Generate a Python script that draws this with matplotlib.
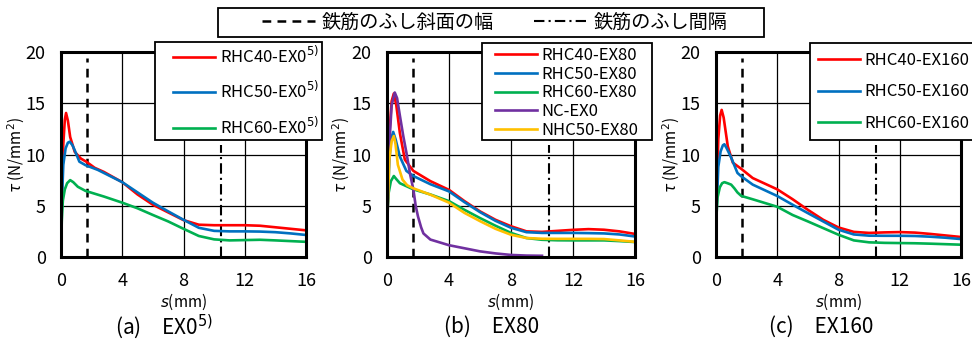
import matplotlib
matplotlib.use('Agg')
import matplotlib.pyplot as plt
from matplotlib.lines import Line2D
from matplotlib.patches import Rectangle

plt.rcParams['font.family'] = ['Noto Sans CJK JP', 'DejaVu Sans']
plt.rcParams['mathtext.fontset'] = 'dejavusans'

# (a) EX0
a_red_x = [0, 0.05, 0.15, 0.25, 0.33, 0.45, 0.6, 0.9, 1.3, 1.65, 2.2, 2.8, 4, 5, 6, 7, 8, 9, 10, 11, 12, 13, 14, 15, 16]
a_red_y = [0, 6, 11, 13.4, 14.05, 13.3, 11.7, 10.25, 9.6, 9.3, 8.7, 8.3, 7.3, 6.1, 5.1, 4.35, 3.6, 3.15, 3.1, 3.1, 3.1, 3.05, 2.9, 2.75, 2.6]
a_blue_x = [0, 0.05, 0.15, 0.3, 0.45, 0.57, 0.75, 0.9, 1.2, 1.6, 2.4, 4, 5, 6, 7, 8, 9, 10, 11, 12, 13, 14, 15, 16]
a_blue_y = [0, 5, 9, 10.6, 11.15, 11.25, 10.9, 10.4, 9.3, 8.96, 8.5, 7.3, 6.3, 5.3, 4.45, 3.63, 2.85, 2.55, 2.5, 2.5, 2.48, 2.42, 2.3, 2.15]
a_green_x = [0, 0.05, 0.12, 0.25, 0.4, 0.6, 0.8, 1.1, 1.6, 2.8, 4, 5, 6, 7, 8, 9, 10, 11, 12, 13, 14, 15, 16]
a_green_y = [0, 3.5, 5.5, 6.6, 7.2, 7.5, 7.3, 6.85, 6.45, 5.9, 5.3, 4.75, 4.1, 3.47, 2.75, 2.05, 1.72, 1.62, 1.65, 1.68, 1.62, 1.55, 1.48]

# (b) EX80
b_red_x = [0, 0.05, 0.15, 0.3, 0.44, 0.6, 0.83, 1.15, 1.7, 2.8, 4, 5, 6, 7, 8, 9, 10, 11, 12, 13, 14, 15, 16]
b_red_y = [0, 6, 12, 15.2, 15.95, 14.8, 12.1, 9.5, 8.4, 7.4, 6.55, 5.45, 4.45, 3.63, 3.0, 2.5, 2.45, 2.55, 2.65, 2.72, 2.66, 2.5, 2.25]
b_blue_x = [0, 0.05, 0.15, 0.28, 0.4, 0.55, 0.83, 1.25, 1.7, 2.8, 4, 5, 6, 7, 8, 9, 10, 11, 12, 13, 14, 15, 16]
b_blue_y = [0, 5, 9.5, 11.6, 12.2, 11.5, 9.8, 8.4, 7.9, 7.1, 6.4, 5.35, 4.38, 3.53, 2.85, 2.42, 2.35, 2.35, 2.35, 2.33, 2.3, 2.2, 2.0]
b_green_x = [0, 0.03, 0.1, 0.25, 0.44, 0.6, 0.83, 1.7, 2.8, 4, 5, 6, 7, 8, 9, 10, 11, 12, 13, 14, 15, 16]
b_green_y = [0, 4.5, 6.2, 7.4, 7.9, 7.6, 7.2, 6.6, 6.1, 5.45, 4.6, 3.8, 3.05, 2.35, 1.85, 1.68, 1.63, 1.62, 1.62, 1.62, 1.55, 1.46]
b_purple_x = [0, 0.05, 0.15, 0.3, 0.5, 0.65, 0.83, 1.05, 1.25, 1.5, 1.7, 1.85, 2.0, 2.2, 2.35, 2.8, 4, 5, 6, 7, 8, 9, 10]
b_purple_y = [0, 5, 11, 14.8, 16.05, 15.5, 13.8, 11.8, 10.2, 8.0, 6.6, 5.0, 3.95, 2.9, 2.3, 1.7, 1.15, 0.85, 0.55, 0.35, 0.2, 0.14, 0.12]
b_yellow_x = [0, 0.05, 0.15, 0.3, 0.44, 0.55, 0.7, 1.0, 1.3, 1.7, 2.8, 4, 5, 6, 7, 8, 9, 10, 11, 12, 13, 14, 15, 16]
b_yellow_y = [0, 5, 9.5, 11.3, 11.8, 11.0, 9.0, 7.55, 7.0, 6.7, 6.08, 5.3, 4.3, 3.5, 2.75, 2.17, 1.85, 1.78, 1.77, 1.77, 1.77, 1.75, 1.62, 1.48]

# (c) EX160
c_red_x = [0, 0.05, 0.15, 0.27, 0.37, 0.5, 0.77, 1.1, 1.65, 2.4, 4, 5, 6, 7, 8, 9, 10, 11, 12, 13, 14, 15, 16]
c_red_y = [0, 6, 11.5, 13.8, 14.35, 13.6, 10.8, 9.2, 8.6, 7.7, 6.6, 5.64, 4.6, 3.63, 2.88, 2.45, 2.35, 2.4, 2.43, 2.38, 2.25, 2.1, 1.95]
c_blue_x = [0, 0.05, 0.15, 0.3, 0.45, 0.55, 0.7, 0.99, 1.4, 1.65, 2.4, 4, 5, 6, 7, 8, 9, 10, 11, 12, 13, 14, 15, 16]
c_blue_y = [0, 5, 8.8, 10.3, 10.9, 11.0, 10.6, 9.7, 8.2, 7.87, 7.06, 5.95, 5.1, 4.28, 3.47, 2.66, 2.2, 2.08, 2.07, 2.07, 2.05, 1.98, 1.88, 1.75]
c_green_x = [0, 0.03, 0.1, 0.25, 0.4, 0.55, 0.75, 0.99, 1.2, 1.4, 1.65, 2.4, 4, 5, 6, 7, 8, 9, 10, 11, 12, 13, 14, 15, 16]
c_green_y = [0, 4, 5.8, 6.8, 7.2, 7.3, 7.2, 7.06, 6.7, 6.3, 5.96, 5.63, 4.9, 4.1, 3.47, 2.82, 2.17, 1.62, 1.43, 1.38, 1.36, 1.34, 1.3, 1.25, 1.2]

rib_slope_width = 1.68   # 鉄筋のふし斜面の幅
rib_spacing = 10.45      # 鉄筋のふし間隔

x_ticks = [0, 4, 8, 12, 16]
y_ticks = [0, 5, 10, 15, 20]

RED = '#FF0000'
BLUE = '#0070C0'
GREEN = '#00B050'
PURPLE = '#7030A0'
YELLOW = '#FFC000'

DASH = (0, (3.5, 2.5))
DASHDOT = (0, (5, 2, 1, 2))

# pixel layout: axes left/right, legend box (x, y, w, h), legend content anchor, row spacing
panels = [
    {
        'left': 61, 'right': 306, 'title': '(a)\u3000EX0$^{5)}$', 'title_x': 164,
        'curves': [
            (a_red_x, a_red_y, RED, 'RHC40-EX0$^{5)}$'),
            (a_blue_x, a_blue_y, BLUE, 'RHC50-EX0$^{5)}$'),
            (a_green_x, a_green_y, GREEN, 'RHC60-EX0$^{5)}$'),
        ],
        'box': (155, 42, 167, 98), 'anchor': (173, 91.5), 'spacing': 0.86,
    },
    {
        'left': 387, 'right': 635, 'title': '(b)\u3000EX80', 'title_x': 492,
        'curves': [
            (b_red_x, b_red_y, RED, 'RHC40-EX80'),
            (b_blue_x, b_blue_y, BLUE, 'RHC50-EX80'),
            (b_green_x, b_green_y, GREEN, 'RHC60-EX80'),
            (b_purple_x, b_purple_y, PURPLE, 'NC-EX0'),
            (b_yellow_x, b_yellow_y, YELLOW, 'NHC50-EX80'),
        ],
        'box': (482, 43, 170, 97), 'anchor': (495, 93), 'spacing': 0.11,
    },
    {
        'left': 716, 'right': 961, 'title': '(c)\u3000EX160', 'title_x': 821,
        'curves': [
            (c_red_x, c_red_y, RED, 'RHC40-EX160'),
            (c_blue_x, c_blue_y, BLUE, 'RHC50-EX160'),
            (c_green_x, c_green_y, GREEN, 'RHC60-EX160'),
        ],
        'box': (810, 43, 175, 97), 'anchor': (818, 92), 'spacing': 0.86,
    },
]

W, H = 972, 340
fig = plt.figure(figsize=(W / 100, H / 100), dpi=100)


def add_box(x, y, w, h):
    fig.patches.append(Rectangle((x / W, 1 - (y + h) / H), w / W, h / H,
                                 transform=fig.transFigure, facecolor='white',
                                 edgecolor='black', linewidth=1.3, zorder=4))


for p in panels:
    ax = fig.add_axes([p['left'] / W, (H - 257) / H, (p['right'] - p['left']) / W, 205 / H])
    ax.set_xlim(0, 16)
    ax.set_ylim(0, 20)
    ax.set_xticks(x_ticks)
    ax.set_yticks(y_ticks)
    ax.tick_params(axis='x', length=0, labelsize=13, pad=11)
    ax.tick_params(axis='y', length=0, labelsize=13, pad=11)
    ax.grid(True, color='black', linewidth=0.9)
    ax.set_axisbelow(True)
    for sp in ax.spines.values():
        sp.set_linewidth(2.2)
        sp.set_zorder(5)

    ax.plot([rib_slope_width, rib_slope_width], [0, 19.4], color='black',
            linestyle=DASH, linewidth=1.8, zorder=3)
    ax.plot([rib_spacing, rib_spacing], [0, 10.9], color='black',
            linestyle=DASHDOT, linewidth=1.5, zorder=3)

    for xs, ys, col, lab in p['curves']:
        ax.plot(xs, ys, color=col, linewidth=1.9, label=lab, zorder=4)

    ax.set_xlabel('$s$(mm)', fontsize=11, labelpad=1)
    ax.set_ylabel(r'$\tau$ (N/mm$^2$)', fontsize=11)
    ax.yaxis.set_label_coords(-0.14, 0.5)

    add_box(*p['box'])
    handles, labels = ax.get_legend_handles_labels()
    ax_ = p['anchor']
    fig.legend(handles, labels, loc='center left',
               bbox_to_anchor=(ax_[0] / W, 1 - ax_[1] / H), fontsize=12,
               frameon=False, handlelength=2.5, handletextpad=0.3,
               labelspacing=p['spacing'], borderpad=0, borderaxespad=0)

    fig.text(p['title_x'] / W, 1 - 327 / H, p['title'], fontsize=15,
             ha='center', va='center')

add_box(218, 8, 546, 29)
top_handles = [
    Line2D([], [], color='black', linestyle=DASH, linewidth=1.8),
    Line2D([], [], color='black', linestyle=DASHDOT, linewidth=1.5),
]
fig.legend(top_handles, ['鉄筋のふし斜面の幅', '鉄筋のふし間隔'], ncol=2,
           loc='center left', bbox_to_anchor=(262 / W, 1 - 22.5 / H),
           fontsize=13.8, frameon=False, handlelength=2.75,
           handletextpad=0.36, columnspacing=2.08, borderpad=0, borderaxespad=0)

fig.savefig('out.png', dpi=100)
